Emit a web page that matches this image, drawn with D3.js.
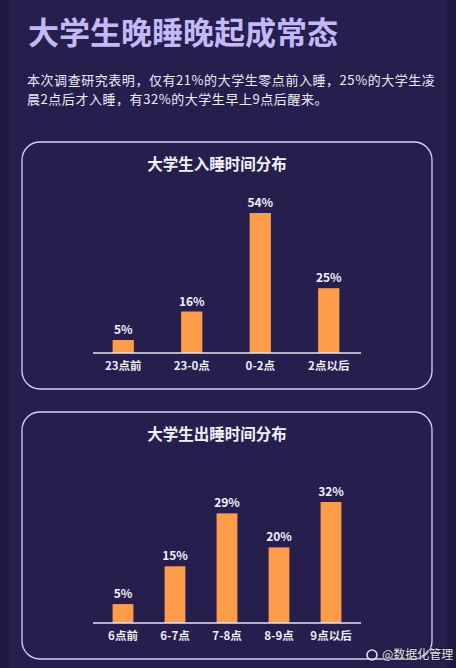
<!DOCTYPE html>
<html>
<head>
<meta charset="utf-8">
<script src="https://cdn.jsdelivr.net/npm/d3@7"></script>
<style>
  html, body { margin: 0; padding: 0; background: #1f1944; }
  svg { display: block; }
</style>
</head>
<body>
<script>
// data
const titleText = "大学生晚睡晚起成常态";
const introLines = [
  "本次调查研究表明，仅有21%的大学生零点前入睡，25%的大学生凌",
  "晨2点后才入睡，有32%的大学生早上9点后醒来。"
];

const sleepTitle = "大学生入睡时间分布";
const sleepCats = ["23点前", "23-0点", "0-2点", "2点以后"];
const sleepVals = [5, 16, 54, 25];

const wakeTitle = "大学生出睡时间分布";
const wakeCats = ["6点前", "6-7点", "7-8点", "8-9点", "9点以后"];
const wakeVals = [5, 15, 29, 20, 32];

const watermark = "@数据化管理";

const w = 456, h = 668;
const font = "'Noto Sans CJK SC', 'Noto Sans', sans-serif";

let svg = d3.select("body")
    .append("svg")
    .attr("width", w)
    .attr("height", h)
    .style("font-family", font);

// outer bg + panel
svg.append("rect").attr("width", w).attr("height", h).attr("fill", "#1f1944");
svg.append("rect")
    .attr("x", 9.5).attr("y", -24)
    .attr("width", 437).attr("height", h + 60)
    .attr("rx", 28)
    .attr("fill", "#261f4e");

svg.append("text")
    .attr("x", 28).attr("y", 44)
    .attr("fill", "#c4b8f6")
    .attr("font-size", 31)
    .attr("font-weight", 700)
    .text(titleText);

svg.selectAll("text.intro")
    .data(introLines)
    .enter()
    .append("text")
    .attr("class", "intro")
    .attr("x", 27)
    .attr("y", (d, i) => 84.5 + i * 19)
    .attr("fill", "#ecebf6")
    .attr("font-size", 13)
    .attr("letter-spacing", 0.55)
    .text(d => d);

function barCard(top, title, cats, vals, xRange, padIn, plotH) {
    let g = svg.append("g");

    g.append("rect")
        .attr("x", 22).attr("y", top)
        .attr("width", 410).attr("height", 247)
        .attr("rx", 18)
        .attr("fill", "none")
        .attr("stroke", "#d9d2f2")
        .attr("stroke-width", 1.3);

    g.append("text")
        .attr("x", 217).attr("y", top + 28)
        .attr("text-anchor", "middle")
        .attr("fill", "#f2f0fa")
        .attr("font-size", 15.5)
        .attr("font-weight", 700)
        .text(title);

    let base = top + 211;

    let xScale = d3.scaleBand()
        .domain(cats)
        .range(xRange)
        .paddingInner(padIn)
        .paddingOuter(padIn / 2);

    let yScale = d3.scaleLinear()
        .domain([0, d3.max(vals)])
        .range([base, base - plotH]);

    g.selectAll("rect.bar")
        .data(vals)
        .enter()
        .append("rect")
        .attr("class", "bar")
        .attr("x", (d, i) => xScale(cats[i]))
        .attr("y", d => yScale(d))
        .attr("width", xScale.bandwidth())
        .attr("height", d => base - yScale(d))
        .attr("fill", "#fd9d4a");

    g.selectAll("text.val")
        .data(vals)
        .enter()
        .append("text")
        .attr("class", "val")
        .attr("x", (d, i) => xScale(cats[i]) + xScale.bandwidth() / 2)
        .attr("y", d => yScale(d) - 6)
        .attr("text-anchor", "middle")
        .attr("fill", "#f2f0fa")
        .attr("font-size", 12)
        .attr("font-weight", 700)
        .text(d => d + "%");

    // axis
    let axis = g.append("g")
        .attr("transform", `translate(0,${base})`)
        .call(d3.axisBottom(xScale).tickSize(0).tickPadding(9));
    axis.select(".domain")
        .attr("d", "M93,0H361")
        .attr("stroke", "#e6e2f5")
        .attr("stroke-width", 1.5);
    axis.selectAll(".tick text")
        .attr("fill", "#ecebf6")
        .attr("font-size", 11.5)
        .attr("font-weight", 700)
        .attr("font-family", font);
}

barCard(142, sleepTitle, sleepCats, sleepVals, [89, 363], 0.69, 140);
barCard(412, wakeTitle, wakeCats, wakeVals, [97, 357], 0.6, 121);

// watermark
let wm = svg.append("g");
wm.append("circle").attr("cx", 372).attr("cy", 655).attr("r", 5)
    .attr("fill", "none").attr("stroke", "#e0dde8").attr("stroke-width", 1.6);
wm.append("text")
    .attr("x", 382).attr("y", 659)
    .attr("fill", "#e8e6ee")
    .attr("font-size", 12)
    .style("paint-order", "stroke")
    .attr("stroke", "rgba(0,0,0,0.35)")
    .attr("stroke-width", 1.5)
    .text(watermark);
</script>
</body>
</html>
